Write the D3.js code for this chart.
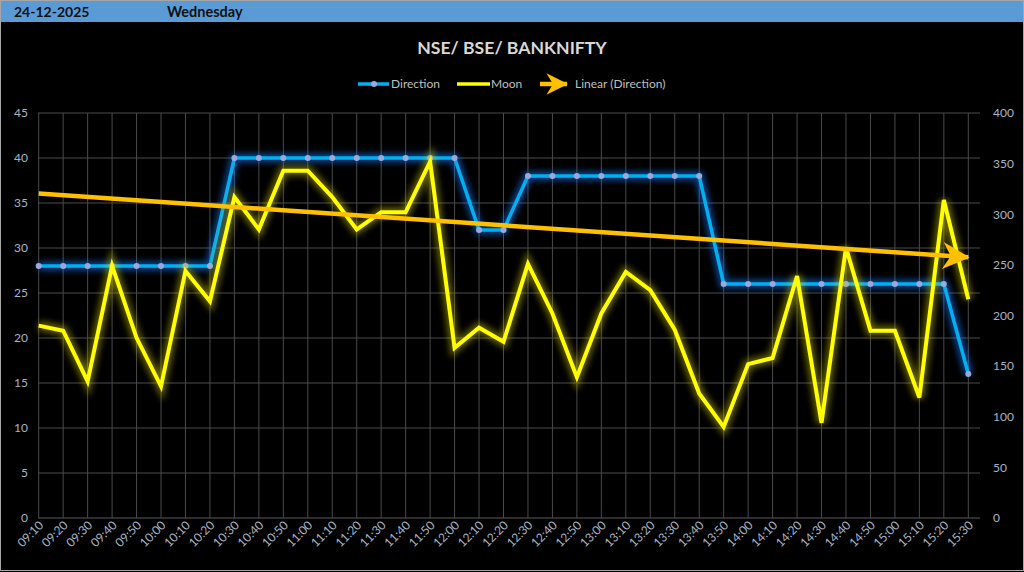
<!DOCTYPE html>
<html>
<head>
<meta charset="utf-8">
<script src="https://cdn.jsdelivr.net/npm/d3@7"></script>
<style>
  html, body { margin: 0; padding: 0; background: #000; }
  svg { display: block; }
</style>
</head>
<body>
<svg id="chart" width="1024" height="572"></svg>
<script>
const headerDate = "24-12-2025";
const headerDay = "Wednesday";
const title = "NSE/ BSE/ BANKNIFTY";
const categories = ["09:10","09:20","09:30","09:40","09:50","10:00","10:10","10:20","10:30","10:40","10:50","11:00","11:10","11:20","11:30","11:40","11:50","12:00","12:10","12:20","12:30","12:40","12:50","13:00","13:10","13:20","13:30","13:40","13:50","14:00","14:10","14:20","14:30","14:40","14:50","15:00","15:10","15:20","15:30"];
const direction = [28,28,28,28,28,28,28,28,40,40,40,40,40,40,40,40,40,40,32,32,38,38,38,38,38,38,38,38,26,26,26,26,26,26,26,26,26,26,16];
const moon = [190,185,135,249,178,130,244,214,317,285,343,343,317,285,302,302,352,168,188,174,251,202,139,202,243,225,186,123,90,152,158,239,94,267,185,185,119,314,216];
const leftTicks = [0,5,10,15,20,25,30,35,40,45];
const rightTicks = [0,50,100,150,200,250,300,350,400];
const seriesNames = ["Direction","Moon","Linear (Direction)"];

const svg = d3.select("#chart");
const W = 1024, H = 572;
const font = "Lato, 'Open Sans', sans-serif";
const labelColor = "#a9b4c4";
const gridColor = "#4a4a4a";

// defs
const defs = svg.append("defs");
const glow = defs.append("filter").attr("id","glow").attr("x","-10%").attr("y","-10%").attr("width","120%").attr("height","120%");
glow.append("feGaussianBlur").attr("stdDeviation",3);
defs.append("marker").attr("id","arrow").attr("viewBox","0 0 20 20")
  .attr("refX",19).attr("refY",10).attr("markerWidth",6).attr("markerHeight",6)
  .attr("markerUnits","strokeWidth").attr("orient","auto")
  .append("path").attr("d","M0,0 L20,10 L0,20 L6,10 Z").attr("fill","#FFC000");
defs.append("marker").attr("id","arrowLg").attr("viewBox","0 0 20 20")
  .attr("refX",19).attr("refY",10).attr("markerWidth",4.8).attr("markerHeight",4.8)
  .attr("markerUnits","strokeWidth").attr("orient","auto")
  .append("path").attr("d","M0,0 L20,10 L0,20 L6,10 Z").attr("fill","#FFC000");

// background & frame
svg.append("rect").attr("x",0).attr("y",0).attr("width",W).attr("height",H).attr("fill","#000");
svg.append("rect").attr("x",0.5).attr("y",0.5).attr("width",W-1).attr("height",H-2).attr("fill","none").attr("stroke","#a6a6a6");
// header
svg.append("rect").attr("x",1).attr("y",1).attr("width",W-2).attr("height",21).attr("fill","#5B9BD5");
svg.append("text").attr("x",14).attr("y",17).text(headerDate).attr("font-family",font).attr("font-weight","bold").attr("font-size",14).attr("fill","#111");
svg.append("text").attr("x",167).attr("y",17).text(headerDay).attr("font-family",font).attr("font-weight","bold").attr("font-size",14.5).attr("fill","#111");

// title
svg.append("text").attr("x",512).attr("y",54).attr("text-anchor","middle").text(title)
  .attr("font-family",font).attr("font-weight","bold").attr("font-size",17.6).attr("fill","#d9d9d9");

// scales
const plotL = 38, plotR = 980, plotT = 113, plotB = 518;
const x = d3.scalePoint().domain(categories).range([38.7, 968.3]);
const yL = d3.scaleLinear().domain([0,45]).range([plotB, plotT]);
const yR = d3.scaleLinear().domain([0,400]).range([plotB, plotT]);

// gridlines
const g = svg.append("g");
g.selectAll("line.h").data(leftTicks).join("line")
  .attr("x1",plotL).attr("x2",plotR).attr("y1",d=>yL(d)).attr("y2",d=>yL(d))
  .attr("stroke",d=>d===0?"#5a5a5a":gridColor).attr("stroke-width",1);
g.selectAll("line.v").data(categories).join("line")
  .attr("x1",d=>x(d)).attr("x2",d=>x(d)).attr("y1",plotT).attr("y2",plotB)
  .attr("stroke",gridColor).attr("stroke-width",1);

// axes (labels only)
const axL = svg.append("g").attr("transform",`translate(${plotL},0)`)
  .call(d3.axisLeft(yL).tickValues(leftTicks).tickSize(0).tickPadding(10));
const axR = svg.append("g").attr("transform",`translate(${plotR},0)`)
  .call(d3.axisRight(yR).tickValues(rightTicks).tickSize(0).tickPadding(13));
const axB = svg.append("g").attr("transform",`translate(0,${plotB})`)
  .call(d3.axisBottom(x).tickSize(0).tickPadding(0));
[axL,axR,axB].forEach(a=>{
  a.select(".domain").remove();
  a.selectAll("text").attr("font-family",font).attr("font-size",12).attr("fill",labelColor);
});
axB.selectAll("text").attr("text-anchor","end").attr("dy",0)
  .attr("transform","translate(5,8) rotate(-45)");

// Direction line
const lineL = d3.line().x((d,i)=>x(categories[i])).y(d=>yL(d));
const lineR = d3.line().x((d,i)=>x(categories[i])).y(d=>yR(d));
svg.append("path").datum(direction).attr("d",lineL).attr("fill","none")
  .attr("stroke","#1a7cff").attr("stroke-width",9).attr("opacity",0.55).attr("filter","url(#glow)");
svg.append("path").datum(direction).attr("d",lineL).attr("fill","none")
  .attr("stroke","#00B0F0").attr("stroke-width",3.5).attr("stroke-linejoin","round");
svg.selectAll("circle.dir").data(direction).join("circle")
  .attr("cx",(d,i)=>x(categories[i])).attr("cy",d=>yL(d)).attr("r",3)
  .attr("fill","#9AA9DD");

// Moon line
svg.append("path").datum(moon).attr("d",lineR).attr("fill","none")
  .attr("stroke","#d8d000").attr("stroke-width",10).attr("opacity",0.45).attr("filter","url(#glow)");
svg.append("path").datum(moon).attr("d",lineR).attr("fill","none")
  .attr("stroke","#FFFF00").attr("stroke-width",4).attr("stroke-linejoin","miter");

// Trend line (linear regression of Direction)
const n = direction.length;
const xi = d3.range(n);
const mx = d3.mean(xi), my = d3.mean(direction);
const slope = d3.sum(xi, i => (i-mx)*(direction[i]-my)) / d3.sum(xi, i => (i-mx)*(i-mx));
const icpt = my - slope*mx;
const trend = [icpt, icpt + slope*(n-1)];
svg.append("line")
  .attr("x1",x(categories[0])).attr("y1",yL(trend[0]))
  .attr("x2",x(categories[n-1])).attr("y2",yL(trend[1]))
  .attr("stroke","#FFC000").attr("stroke-width",4.5).attr("marker-end","url(#arrow)");

// Legend
const lg = svg.append("g");
const ly = 84;
lg.append("line").attr("x1",358).attr("x2",389).attr("y1",ly).attr("y2",ly).attr("stroke","#00B0F0").attr("stroke-width",3.5);
lg.append("circle").attr("cx",374).attr("cy",ly).attr("r",3).attr("fill","#9AA9DD");
lg.append("text").attr("x",391).attr("y",ly+4).text(seriesNames[0]);
lg.append("line").attr("x1",457).attr("x2",490).attr("y1",ly).attr("y2",ly).attr("stroke","#FFFF00").attr("stroke-width",3.5);
lg.append("text").attr("x",491).attr("y",ly+4).text(seriesNames[1]);
lg.append("line").attr("x1",540).attr("x2",567).attr("y1",ly).attr("y2",ly).attr("stroke","#FFC000").attr("stroke-width",4.5).attr("marker-end","url(#arrowLg)");
lg.append("text").attr("x",575).attr("y",ly+4).text(seriesNames[2]);
lg.selectAll("text").attr("font-family",font).attr("font-size",12).attr("fill","#bfbfbf");
</script>
</body>
</html>
